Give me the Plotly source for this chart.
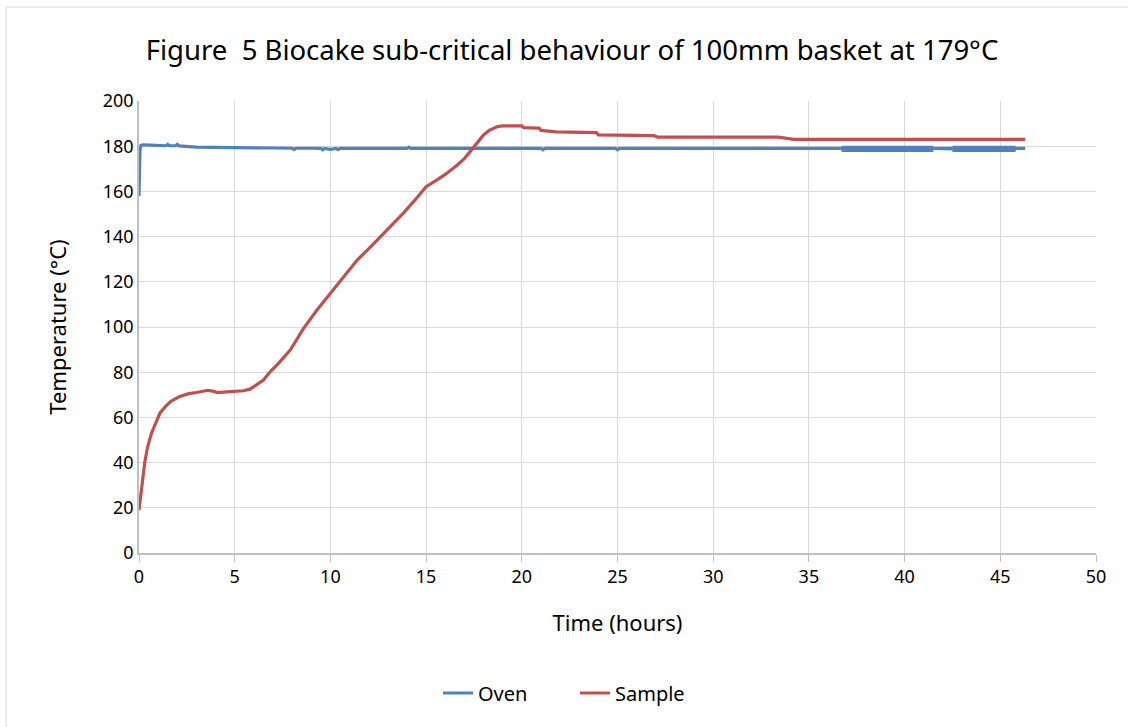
import plotly.graph_objects as go

# Oven temperature (hours, °C)
oven_t = [0, 0.02, 0.05, 0.1, 0.2, 0.6, 1.0, 1.4, 1.5, 1.6, 1.9, 2.0, 2.1, 2.4, 2.6, 3.0, 3.4, 4.0, 4.5, 5.0, 6.0, 7.0, 8.0, 8.1, 8.2, 9.0, 9.5, 9.6, 9.7, 10.0, 10.3, 10.4, 10.5, 11.0, 11.3, 14.0, 14.1, 14.2, 17.0, 21.0, 21.1, 21.2, 24.9, 25.0, 25.1, 30.0, 36.6, 46.3]
oven_T = [158, 172, 178, 180.3, 180.6, 180.5, 180.4, 180.2, 180.8, 180.2, 180.2, 180.8, 180.1, 179.8, 179.8, 179.6, 179.6, 179.5, 179.4, 179.4, 179.3, 179.2, 179.1, 178.5, 179.1, 179.1, 179.0, 178.4, 179.0, 178.6, 179.0, 178.5, 179.0, 179.0, 179.0, 179.0, 179.6, 179.0, 179.0, 179.0, 178.4, 179.0, 179.0, 178.4, 179.0, 179.0, 179.0, 179.0]

# Oven noise envelope late in the run (hours, min °C, max °C)
oven_band_t = [36.7, 41.5, None, 42.5, 44.4, 44.5, 45.8]
oven_band_lo = [178.1, 178.1, None, 178.1, 178.1, 178.3, 178.1]
oven_band_hi = [179.5, 179.5, None, 179.5, 179.5, 179.3, 179.5]

# Sample temperature (hours, °C)
sample_t = [0, 0.15, 0.3, 0.45, 0.65, 0.9, 1.1, 1.4, 1.65, 2.1, 2.6, 3.0, 3.4, 3.6, 3.9, 4.1, 4.6, 5.0, 5.45, 5.8, 6.0, 6.5,
            6.85, 7.3, 7.9, 8.6, 9.3, 10.0, 10.7, 11.4, 12.1, 12.8, 13.8, 14.4, 15.0, 15.55, 16.0, 16.6, 17.0, 17.3, 17.6,
            18.0, 18.3, 18.7, 19.0, 20.0, 20.1, 20.9, 21.0, 21.8, 23.9, 24.0, 26.9, 27.1, 33.4, 33.7, 34.2, 46.3]
sample_T = [19, 30, 40, 47, 53, 58, 62, 65, 67, 69.2, 70.5, 71, 71.5, 72, 71.5, 71, 71.3, 71.5, 71.8, 72.5, 73.6, 76.5,
            80.2, 84, 89.8, 99.4, 107.5, 114.9, 122, 129.6, 135.5, 141.5, 150.3, 156, 162.1, 165, 167.5, 171.5, 174.5, 177.6, 181,
            185, 187, 188.6, 189, 189, 188.2, 188, 187, 186.3, 186, 185, 184.7, 184, 184, 183.5, 183, 183]

x_ticks = [0, 5, 10, 15, 20, 25, 30, 35, 40, 45, 50]
y_ticks = [0, 20, 40, 60, 80, 100, 120, 140, 160, 180, 200]

FONT = "Noto Sans"
BLUE = "#4F81BD"
RED = "#C0504D"

fig = go.Figure()
fig.add_trace(go.Scatter(x=oven_t, y=oven_T, mode="lines", name="Oven", legendgroup="oven",
                         line=dict(color=BLUE, width=3.2)))
fig.add_trace(go.Scatter(x=oven_band_t, y=oven_band_lo, mode="lines", legendgroup="oven", showlegend=False,
                         line=dict(color=BLUE, width=3.2), hoverinfo="skip"))
fig.add_trace(go.Scatter(x=oven_band_t, y=oven_band_hi, mode="lines", legendgroup="oven", showlegend=False,
                         line=dict(color=BLUE, width=3.2), fill="tonexty", fillcolor=BLUE, hoverinfo="skip"))
fig.add_trace(go.Scatter(x=sample_t, y=sample_T, mode="lines", name="Sample",
                         line=dict(color=RED, width=3.2)))

fig.update_layout(
    width=1128, height=727,
    margin=dict(l=139, r=32, t=101, b=174),
    paper_bgcolor="white", plot_bgcolor="white",
    font=dict(family=FONT, color="#000000"),
    title=dict(text="Figure  5 Biocake sub-critical behaviour of 100mm basket at 179°C",
               xref="container", x=572 / 1128, xanchor="center", y=1 - 50 / 727, yanchor="middle",
               font=dict(family=FONT, size=27.5, color="#000000")),
    showlegend=True,
    legend=dict(orientation="h", x=(575 - 139) / 957, xanchor="center", y=(553 - 693) / 452, yanchor="middle",
                font=dict(family=FONT, size=20), entrywidth=92, entrywidthmode="pixels"),
    shapes=[dict(type="rect", xref="paper", yref="paper",
                 x0=-133 / 957, x1=1.1, y0=-0.5, y1=1 + 94 / 452,
                 line=dict(color="#D9D9D9", width=1), fillcolor="rgba(0,0,0,0)", layer="below")],
)

fig.update_xaxes(range=[0, 50], tickvals=x_ticks, ticktext=[str(v) for v in x_ticks],
                 showgrid=True, gridcolor="#D9D9D9", gridwidth=1,
                 showline=True, linecolor="#BFBFBF", linewidth=1.5,
                 ticks="outside", ticklen=7, tickcolor="#BFBFBF",
                 tickfont=dict(family=FONT, size=18), zeroline=False,
                 title=dict(text="Time (hours)", font=dict(family=FONT, size=22), standoff=28))
fig.update_yaxes(range=[0, 200], tickvals=y_ticks, ticktext=[str(v) for v in y_ticks],
                 showgrid=True, gridcolor="#D9D9D9", gridwidth=1,
                 showline=True, linecolor="#BFBFBF", linewidth=1.5,
                 ticks="", tickfont=dict(family=FONT, size=18), zeroline=False,
                 title=dict(text="Temperature (°C)", font=dict(family=FONT, size=22), standoff=30))

fig.write_html("out.html")
